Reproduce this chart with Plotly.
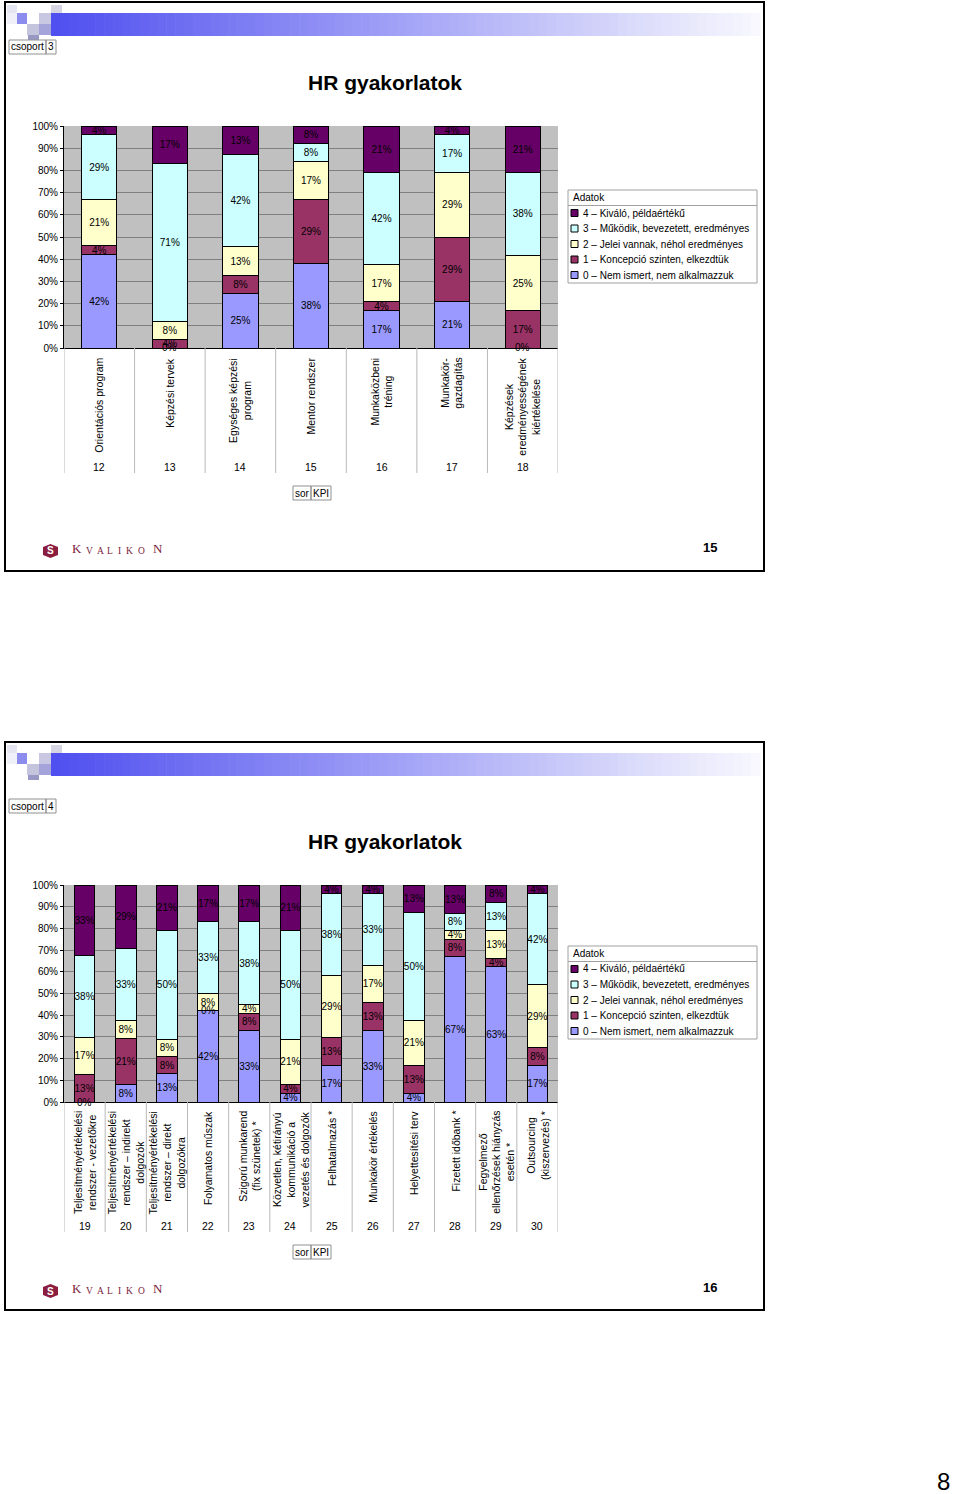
import plotly.graph_objects as go

W, H = 960, 1494
FONT = "Liberation Sans"

# ---------------- data ----------------
series_names = [
    "0 – Nem ismert, nem alkalmazzuk",
    "1 – Koncepció szinten, elkezdtük",
    "2 – Jelei vannak, néhol eredményes",
    "3 – Működik, bevezetett, eredményes",
    "4 – Kiváló, példaértékű",
]
series_colors = ["#9999FF", "#993366", "#FFFFCC", "#CCFFFF", "#660066"]

codes_1 = ["12", "13", "14", "15", "16", "17", "18"]
labels_1 = [
    "Orientációs program",
    "Képzési tervek",
    "Egységes képzési<br>program",
    "Mentor rendszer",
    "Munkaközbeni<br>tréning",
    "Munkakör-<br>gazdagítás",
    "Képzések<br>eredményességének<br>kiértékelése",
]
s0_1 = [42, 0, 25, 38, 17, 21, 0]
s1_1 = [4, 4, 8, 29, 4, 29, 17]
s2_1 = [21, 8, 13, 17, 17, 29, 25]
s3_1 = [29, 71, 42, 8, 42, 17, 38]
s4_1 = [4, 17, 13, 8, 21, 4, 21]

codes_2 = ["19", "20", "21", "22", "23", "24", "25", "26", "27", "28", "29", "30"]
labels_2 = [
    "Teljesítményértékelési<br>rendszer - vezetőkre",
    "Teljesítményértékelési<br>rendszer – indirekt<br>dolgozók",
    "Teljesítményértékelési<br>rendszer – direkt<br>dolgozókra",
    "Folyamatos műszak",
    "Szigorú munkarend<br>(fix szünetek) *",
    "Közvetlen, kétirányú<br>kommunikáció a<br>vezetés és dolgozók",
    "Felhatalmazás *",
    "Munkakör értékelés",
    "Helyettesítési terv",
    "Fizetett időbank *",
    "Fegyelmező<br>ellenőrzések hiányzás<br>esetén *",
    "Outsourcing<br>(kiszervezés) *",
]
s0_2 = [0, 8, 13, 42, 33, 4, 17, 33, 4, 67, 63, 17]
s1_2 = [13, 21, 8, 0, 8, 4, 13, 13, 13, 8, 4, 8]
s2_2 = [17, 8, 8, 8, 4, 21, 29, 17, 21, 4, 13, 29]
s3_2 = [38, 33, 50, 33, 38, 50, 38, 33, 50, 8, 13, 42]
s4_2 = [33, 29, 21, 17, 17, 21, 4, 4, 13, 13, 8, 4]

y_ticks = list(range(0, 101, 10))


def px(x):
    return x / W


def py(y):
    return 1 - y / H


fig = go.Figure()
shapes = []
annotations = []


def rect(x0, y0, x1, y1, fill=None, line_color=None, lw=1, layer="above"):
    d = dict(type="rect", xref="paper", yref="paper",
             x0=px(x0), x1=px(x1), y0=py(y1), y1=py(y0), layer=layer)
    d["fillcolor"] = fill if fill else "rgba(0,0,0,0)"
    if line_color:
        d["line"] = dict(color=line_color, width=lw)
    else:
        d["line"] = dict(width=0)
    shapes.append(d)


def text(x, y, t, size=10, color="#000000", xanchor="center", yanchor="middle",
         bold=False, family=FONT, angle=0, height=None):
    if bold:
        t = "<b>" + t + "</b>"
    a = dict(
        x=px(x), y=py(y), xref="paper", yref="paper", text=t, showarrow=False,
        xanchor=xanchor, yanchor=yanchor, textangle=angle,
        font=dict(family=family, size=size, color=color), align="center")
    if height:
        a["height"] = height
    annotations.append(a)


def slide(top, content_off, page_no, group_no, bottom):
    # frame
    rect(5, top, 764, bottom, line_color="#000000", lw=2)
    # gradient header bar
    n = 80
    x_start, x_end = 51, 760
    c0 = (80, 80, 240)
    c1 = (248, 248, 254)
    for i in range(n):
        t = i / (n - 1)
        c = tuple(int(c0[j] + (c1[j] - c0[j]) * t) for j in range(3))
        xa = x_start + (x_end - x_start) * i / n
        xb = x_start + (x_end - x_start) * (i + 1) / n + 0.6
        rect(xa, top + 11, xb, top + 34, fill="rgb(%d,%d,%d)" % c, layer="below")
    # mosaic squares
    for (x0, y0, x1, y1, col) in [
        (7, 3, 17, 11, "#E6E6F2"),
        (17, 11, 27, 22, "#8C8CEE"),
        (27, 22, 39, 33, "#C4C4DC"),
        (39, 11, 51, 22, "#C8C8E2"),
        (51, 3, 62, 11, "#D4D4E2"),
        (39, 22, 51, 33, "#A4A4DA"),
        (28, 33, 39, 38, "#9898C4"),
        (7, 11, 17, 22, "#F0F0F8"),
    ]:
        rect(x0, top + y0, x1, top + y1, fill=col, layer="below")
    # csoport box
    cy = top + 38 + content_off
    rect(9, cy, 46, cy + 14, line_color="#909090", lw=1)
    rect(46, cy, 56, cy + 14, line_color="#909090", lw=1)
    text(27.5, cy + 7, "csoport", size=10)
    text(51, cy + 7, group_no, size=10)
    # title
    text(384.5, top + 80 + content_off, "HR gyakorlatok", size=21, bold=True)
    # footer logo
    fy = top + 549
    shapes.append(dict(type="path", xref="paper", yref="paper",
                       path="M %f %f L %f %f L %f %f L %f %f L %f %f L %f %f Z" % (
                           px(50.5), py(fy - 7), px(58), py(fy - 4), px(58), py(fy + 4),
                           px(50.5), py(fy + 7), px(43), py(fy + 4), px(43), py(fy - 4)),
                       fillcolor="#8B1E3F", line=dict(width=0)))
    text(50.5, fy, "S", size=10, color="#FFFFFF", bold=True)
    letters = [("K", 77, 13), ("V", 89, 9.5), ("A", 100, 9.5), ("L", 110, 9.5),
               ("I", 119, 9.5), ("K", 129, 9.5), ("O", 141, 9.5), ("N", 158, 13)]
    for ch, lx, sz in letters:
        text(lx, fy + 7, ch, size=sz, color="#7B1B3B", yanchor="bottom",
             family="Liberation Serif")
    text(710, top + 545, page_no, size=13, bold=True)


def sor_kpi(y):
    rect(293, y, 311, y + 14, line_color="#909090", lw=1)
    rect(311, y, 331, y + 14, line_color="#909090", lw=1)
    text(302, y + 7, "sor", size=10)
    text(321, y + 7, "KPI", size=10)


def legend_box(top):
    rect(568, top, 757, top + 93, fill="#FFFFFF", line_color="#A0A0A0", lw=1)
    text(571, top + 8, "Adatok", size=10, xanchor="left")
    shapes.append(dict(type="line", xref="paper", yref="paper",
                       x0=px(568), x1=px(757), y0=py(top + 15.5), y1=py(top + 15.5),
                       line=dict(color="#A0A0A0", width=1)))
    for i, k in enumerate([4, 3, 2, 1, 0]):
        yy = top + 23 + i * 15.5
        rect(571, yy - 3.5, 578, yy + 3.5, fill=series_colors[k], line_color="#000000", lw=1)
        text(581, yy, series_names[k], size=10, xanchor="left")


def chart(codes, labels, series, xref, yref, bot_px, sep_bottom, num_y, lab_gap):
    for k in range(5):
        vals = series[k]
        fig.add_trace(go.Bar(
            x=codes, y=vals, name=series_names[k],
            marker=dict(color=series_colors[k], line=dict(color="#000000", width=1)),
            text=[f"{v}%" if v > 0 else "" for v in vals],
            texttemplate="%{text}", textposition="inside",
            insidetextanchor="middle", textangle=0, constraintext="none",
            textfont=dict(family=FONT, size=10, color="#000000"),
            width=0.5, xaxis=xref, yaxis=yref, showlegend=False,
        ))
    # zero-value labels at their stack base (x given as category index)
    for i, c in enumerate(codes):
        total = sum(series[k][i] for k in range(5))
        base = 0
        for k in range(5):
            v = series[k][i]
            if v == 0:
                annotations.append(dict(x=i, y=base / total * 100, xref=xref, yref=yref,
                                        text="0%", showarrow=False, yanchor="middle",
                                        font=dict(family=FONT, size=10, color="#000000")))
            base += v
    n = len(codes)
    for i in range(n + 1):
        shapes.append(dict(type="line", xref=xref, yref="paper",
                           x0=i - 0.5, x1=i - 0.5, y0=py(bot_px), y1=py(sep_bottom),
                           line=dict(color="#B8B8B8", width=1)))
    for i, (c, lab) in enumerate(zip(codes, labels)):
        annotations.append(dict(x=i, y=py(bot_px + lab_gap), xref=xref, yref="paper",
                                text=lab, showarrow=False, textangle=-90,
                                xanchor="center", yanchor="top", align="center",
                                font=dict(family=FONT, size=10.5, color="#000000")))
        annotations.append(dict(x=i, y=py(num_y), xref=xref, yref="paper",
                                text=c, showarrow=False, yanchor="middle",
                                font=dict(family=FONT, size=10.5, color="#000000")))


slide(2, 0, "15", "3", 571)
slide(742, 19, "16", "4", 1310)
sor_kpi(486)
sor_kpi(1245)
legend_box(190)
legend_box(946)

chart(codes_1, labels_1, [s0_1, s1_1, s2_1, s3_1, s4_1], "x", "y", 348, 473, 467, 8)
chart(codes_2, labels_2, [s0_2, s1_2, s2_2, s3_2, s4_2], "x2", "y2", 1102, 1232, 1226, 7)

text(952, 1481, "8", size=24, xanchor="right", height=26)

xcommon = dict(type="category", showticklabels=False, showline=True, linecolor="#000000",
               linewidth=1, ticks="", showgrid=False, zeroline=False, automargin=False)
ycommon = dict(range=[0, 100], tickmode="array", tickvals=y_ticks,
               ticktext=[f"{v}%" for v in y_ticks], showgrid=True, gridcolor="#808080",
               gridwidth=1, showline=True, linecolor="#000000", linewidth=1,
               ticks="outside", ticklen=3, tickcolor="#000000", zeroline=False,
               automargin=False,
               tickfont=dict(family=FONT, size=10, color="#000000"))

fig.update_layout(
    template="none",
    width=W, height=H, margin=dict(l=0, r=0, t=0, b=0, pad=0, autoexpand=False),
    paper_bgcolor="#FFFFFF", plot_bgcolor="#C0C0C0",
    barmode="stack", barnorm="percent",
    showlegend=False,
    font=dict(family=FONT, size=10, color="#000000"),
    xaxis=dict(domain=[px(64), px(558)], anchor="y", range=[-0.5, len(codes_1) - 0.5],
               categoryorder="array", categoryarray=codes_1, **xcommon),
    yaxis=dict(domain=[py(348), py(126)], anchor="x", **ycommon),
    xaxis2=dict(domain=[px(64), px(558)], anchor="y2", range=[-0.5, len(codes_2) - 0.5],
                categoryorder="array", categoryarray=codes_2, **xcommon),
    yaxis2=dict(domain=[py(1102), py(885)], anchor="x2", **ycommon),
    shapes=shapes, annotations=annotations,
)

post = ("document.body.style.margin='0';document.body.style.overflow='hidden';"
        "var d=document.getElementById('{plot_id}');d.style.position='absolute';"
        "d.style.left='0px';d.style.top='0px';")
fig.write_html("out.html", post_script=post, config={"displayModeBar": False})
